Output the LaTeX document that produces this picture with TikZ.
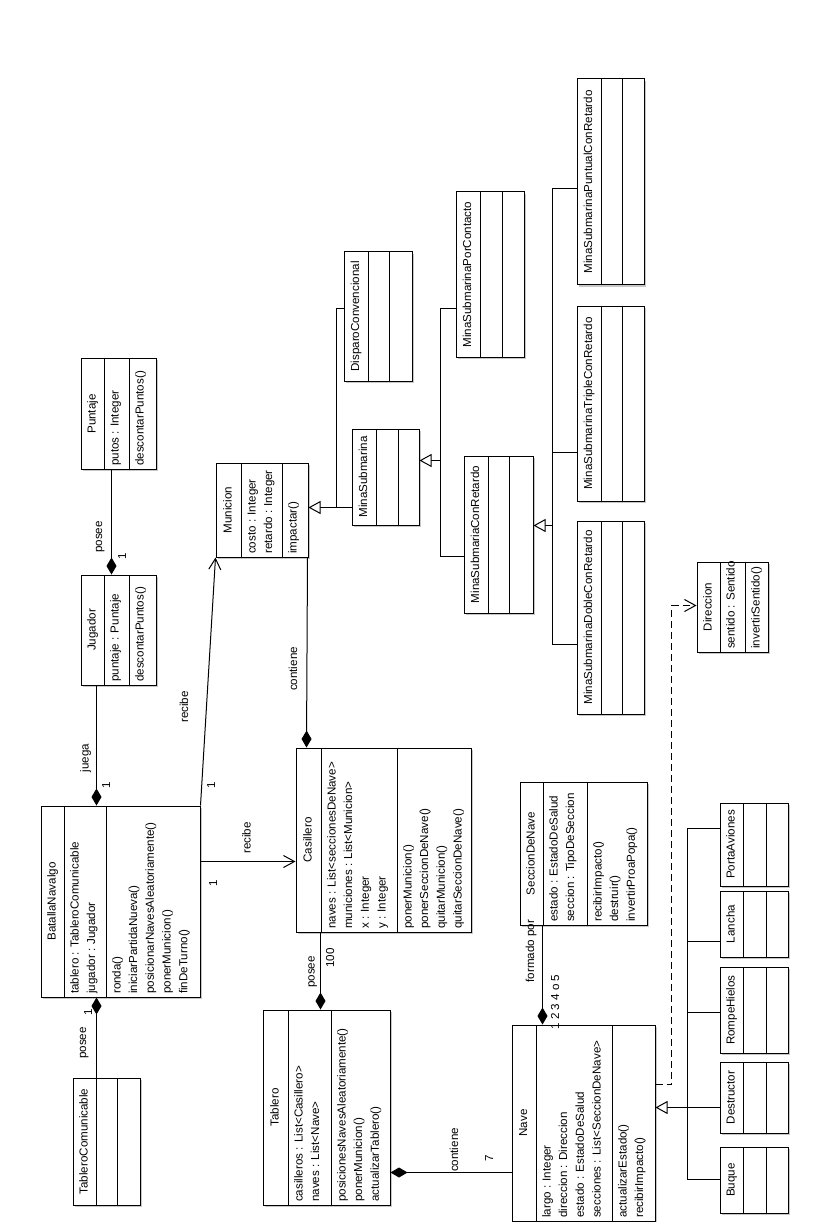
\documentclass[tikz,border=0pt]{standalone}
\usepackage{fontspec}
\setmainfont{Liberation Sans}
\usetikzlibrary{arrows.meta}
\newcount\tcnt
\newcommand\fs{\fontsize{11.6}{14}\selectfont}
\tikzset{
 ln/.style={line width=1pt},
 tl/.style={rotate=90, anchor=west, inner sep=0pt, font=\fs, text height=9pt, text depth=3pt},
 tc/.style={rotate=90, anchor=center, inner sep=0pt, font=\fs, text height=9pt, text depth=3pt},
 umlbox/.style={draw, line width=1pt, fill=white, inner sep=0pt, rectangle},
 comp/.style={-{Diamond[length=17pt,width=10pt]}, line width=1pt},
 gen/.style={-{Triangle[open,fill=white,length=12pt,width=13pt]}, line width=1pt},
 assoc/.style={-{Straight Barb[length=11pt,width=12pt]}, line width=1pt},
 dep/.style={assoc, dash pattern=on 7pt off 4pt},
}
\newcommand\ubox[7]{%
 \fill[black!22] ({#2+2},{#4+2}) rectangle ({#3+2},{#5+2});
 \node[umlbox, minimum width={#3-#2}, minimum height={#5-#4}] (#1) at ({(#2+#3)/2},{(#4+#5)/2}) {};
 \draw[ln] (#6,#4) -- (#6,#5) (#7,#4) -- (#7,#5);
}
\newcommand\ttext[3]{\global\advance\tcnt by 1 \node[tc] (t\the\tcnt) at (#1,#2) {#3};}
\newcommand\comp[3]{\foreach \s [count=\i] in {#3} {\global\advance\tcnt by 1 \node[tl] (t\the\tcnt) at ({#1+11.5+(\i-1)*16.7},{#2-3}) {\s};}}
\begin{document}
\begin{tikzpicture}[x=1pt,y=-1pt]
\fill[white] (0,0) rectangle (828,1222);
\useasboundingbox (0,0) rectangle (828,1222);

% classes
\ubox{Puntaje}{81}{156}{358}{469}{104}{129}
\ttext{92.5}{414}{Puntaje}
\comp{104}{469}{putos : Integer}
\comp{129}{469}{descontarPuntos()}

\ubox{Jugador}{81}{156}{575}{685}{104}{129}
\ttext{92.5}{630}{Jugador}
\comp{104}{685}{puntaje : Puntaje}
\comp{129}{685}{descontarPuntos()}

\ubox{Municion}{216}{308}{463}{557}{241}{282}
\ttext{228.5}{510}{Municion}
\comp{241}{557}{costo : Integer, retardo : Integer}
\comp{282}{557}{impactar()}

\ubox{MinaSub}{352}{419}{429}{525}{376}{398}
\ttext{364}{477}{MinaSubmarina}

\ubox{Disparo}{344}{412}{252}{381}{368}{389}
\ttext{356}{316.5}{DisparoConvencional}

\ubox{PorContacto}{456}{524}{192}{357}{480}{502}
\ttext{468}{274.5}{MinaSubmarinaPorContacto}

\ubox{ConRetardo}{464}{533}{456}{613}{488}{509}
\ttext{476}{534.5}{MinaSubmariaConRetardo}

\ubox{Puntual}{577}{644}{79}{285}{601}{622}
\ttext{589}{182}{MinaSubmarinaPuntualConRetardo}

\ubox{Triple}{577}{644}{306}{501}{601}{622}
\ttext{589}{403.5}{MinaSubmarinaTripleConRetardo}

\ubox{Doble}{577}{644}{521}{714}{601}{622}
\ttext{589}{617.5}{MinaSubmarinaDobleConRetardo}

\ubox{Direccion}{697}{768}{562}{652}{720}{745}
\ttext{708.5}{607}{Direccion}
\comp{720}{652}{sentido : Sentido}
\comp{745}{652}{invertirSentido()}

\ubox{Batalla}{41}{200}{806}{997}{64}{106}
\ttext{52.5}{901.5}{BatallaNavalgo}
\comp{64}{997}{tablero : TableroComunicable, jugador : Jugador}
\comp{106}{997}{ronda(), iniciarPartidaNueva(), posicionarNavesAleatoriamente(), ponerMunicion(), finDeTurno()}

\ubox{Casillero}{296}{471}{748}{932}{321}{397}
\ttext{308.5}{840}{Casillero}
\comp{321}{932}{naves : List<seccionesDeNave>, municiones : List<Municion>, x : Integer, y : Integer}
\comp{397}{932}{ponerMunicion(), ponerSeccionDeNave(), quitarMunicion(), quitarSeccionDeNave()}

\ubox{Tablero}{263}{390}{1010}{1205}{288}{331}
\ttext{275.5}{1107.5}{Tablero}
\comp{288}{1205}{casilleros : List<Casillero>, naves : List<Nave>}
\comp{331}{1205}{posicionesNavesAleatoriamente(), ponerMunicion(), actualizarTablero()}

\ubox{TC}{73}{140}{1078}{1205}{96}{117}
\ttext{84.5}{1141.5}{TableroComunicable}

\ubox{Seccion}{520}{647}{782}{925}{543}{587}
\ttext{531.5}{853.5}{SeccionDeNave}
\comp{543}{925}{estado : EstadoDeSalud, seccion : TipoDeSeccion}
\comp{587}{925}{recibirImpacto(), destruir(), invertirProaPopa()}

\ubox{Nave}{512}{655}{1025}{1221}{536}{612}
\ttext{524}{1123}{Nave}
\comp{536}{1221}{largo : Integer, direccion : Direccion, estado : EstadoDeSalud, secciones : List<SeccionDeNave>}
\comp{612}{1221}{actualizarEstado(), recibirImpacto()}

\ubox{PortaAviones}{720}{788}{803}{886}{743}{766}
\ttext{731.5}{844.5}{PortaAviones}
\ubox{Lancha}{720}{788}{891}{957}{743}{766}
\ttext{731.5}{924}{Lancha}
\ubox{RompeHielos}{720}{788}{967}{1053}{743}{766}
\ttext{731.5}{1010}{RompeHielos}
\ubox{Destructor}{720}{788}{1062}{1133}{743}{766}
\ttext{731.5}{1097.5}{Destructor}
\ubox{Buque}{720}{788}{1147}{1213}{743}{766}
\ttext{731.5}{1180}{Buque}

% compositions
\draw[comp] ([xshift=31pt]Puntaje.south west) -- ([xshift=31pt]Jugador.north west);
\draw[comp] ([xshift=16pt]Jugador.south west) -- ([xshift=56pt]Batalla.north west);
\draw[comp] ([xshift=-1pt]Municion.south east) -- ([xshift=11pt]Casillero.north west);
\draw[comp] ([xshift=25pt]Casillero.south west) -- ([xshift=58pt]Tablero.north west);
\draw[comp] ([xshift=24pt]TC.north west) -- ([xshift=56pt]Batalla.south west);
\draw[comp] ([yshift=-148pt]Nave.north west) -- ([yshift=-163pt]Tablero.north east);
\draw[comp] ([xshift=23pt]Seccion.south west) -- ([xshift=31pt]Nave.north west);

% associations
\draw[assoc] (Batalla.north east) -- (Municion.south west);
\draw[assoc] ([yshift=-56pt]Batalla.north east) -- ([yshift=-114pt]Casillero.north west);
\draw[dep] ([yshift=-60pt]Nave.north east) -| ([xshift=-25pt,yshift=-44pt]Direccion.north west) -- ([yshift=-44pt]Direccion.north west);

% generalizations
\draw[gen] ([yshift=-79pt]MinaSub.north west) -- ([yshift=-45pt]Municion.north east);
\draw[ln] ([yshift=-57pt]Disparo.north west) -| ([xshift=-15pt,yshift=-79pt]MinaSub.north west);

\draw[ln] ([yshift=-117pt]PorContacto.north west) -| ([xshift=-23pt,yshift=-101pt]ConRetardo.north west) -- ([yshift=-101pt]ConRetardo.north west);
\draw[gen] ([xshift=-23pt,yshift=-5pt]ConRetardo.north west) -- ([yshift=-32pt]MinaSub.north east);

\draw[ln] ([yshift=-110pt]Puntual.north west) -| ([xshift=-24pt,yshift=-124pt]Doble.north west) -- ([yshift=-124pt]Doble.north west);
\draw[ln] ([yshift=-147pt]Triple.north west) -- ([xshift=-24pt,yshift=-147pt]Triple.north west);
\draw[gen] ([xshift=-24pt,yshift=-5pt]Doble.north west) -- ([yshift=-70pt]ConRetardo.north east);

\draw[ln] ([yshift=-26pt]PortaAviones.north west) -| ([xshift=-32pt,yshift=-33pt]Buque.north west) -- ([yshift=-33pt]Buque.north west);
\draw[ln] ([yshift=-51pt]Lancha.north west) -- ([xshift=-32pt,yshift=-51pt]Lancha.north west);
\draw[ln] ([yshift=-46pt]RompeHielos.north west) -- ([xshift=-32pt,yshift=-46pt]RompeHielos.north west);
\draw[ln] ([yshift=-46pt]Destructor.north west) -- ([xshift=-32pt,yshift=-46pt]Destructor.north west);
\draw[gen] ([xshift=-32pt,yshift=-46pt]Destructor.north west) -- ([yshift=-83pt]Nave.north east);

% labels
\ttext{99}{537}{posee}
\ttext{123}{556}{1}
\ttext{85.5}{758}{juega}
\ttext{107}{785}{1}
\ttext{185}{707}{recibe}
\ttext{212}{785}{1}
\ttext{247.5}{838}{recibe}
\ttext{214}{883}{1}
\ttext{294}{669}{contiene}
\ttext{311.5}{972}{posee}
\ttext{331}{958}{100}
\ttext{83}{1043}{posee}
\ttext{89}{1012}{1}
\ttext{455}{1150}{contiene}
\ttext{490}{1158}{7}
\ttext{531}{951}{formado por}
\ttext{556}{1002}{1 2 3 4 o 5}
\end{tikzpicture}
\end{document}
